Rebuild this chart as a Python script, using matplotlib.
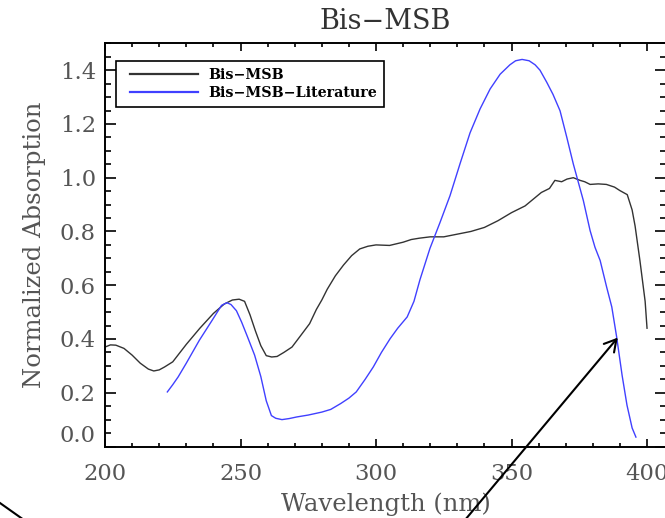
import matplotlib
matplotlib.use("Agg")
import matplotlib.pyplot as plt
import matplotlib.lines as mlines
from matplotlib.legend_handler import HandlerLine2D
from matplotlib.ticker import MultipleLocator

# measured spectrum (normalized)
bm_wl = [200, 202, 204, 207, 210, 213, 216, 218, 220, 222, 225, 230, 235, 240,
         244, 247, 249.5, 251.5, 253.5, 255.5, 257.5, 259.5, 261.5, 263.5, 266,
         269, 272, 275.5, 278, 280, 282, 285, 288, 291, 294, 297, 300, 305, 310,
         313, 316, 320, 325, 330, 335, 340, 345, 350, 355, 358, 361, 364, 366,
         368.5, 370.5, 372.8, 375.3, 377, 379, 382, 385, 388, 390, 392.7, 394.5,
         395.6, 397.4, 399.3, 400]
bm_abs = [0.37, 0.378, 0.377, 0.365, 0.34, 0.31, 0.288, 0.281, 0.285, 0.296,
          0.315, 0.38, 0.44, 0.495, 0.53, 0.545, 0.548, 0.54, 0.49, 0.43, 0.375,
          0.338, 0.333, 0.335, 0.35, 0.37, 0.41, 0.457, 0.51, 0.545, 0.585,
          0.635, 0.675, 0.71, 0.735, 0.745, 0.75, 0.748, 0.76, 0.77, 0.775,
          0.78, 0.78, 0.79, 0.80, 0.815, 0.84, 0.87, 0.895, 0.92, 0.945, 0.96,
          0.99, 0.985, 0.995, 1.0, 0.99, 0.985, 0.975, 0.977, 0.975, 0.965,
          0.952, 0.937, 0.88, 0.82, 0.69, 0.54, 0.44]

# literature spectrum
lit_wl = [223, 225, 227, 230, 234.8, 239.5, 243, 245, 246.5, 248.5, 250.4,
          252.5, 255.2, 257.5, 259.5, 261.4, 263, 265.3, 268, 270.8, 275, 280,
          283.3, 287, 290, 292.7, 296, 299, 302, 305.2, 308, 311.5, 314, 316.2,
          319.9, 323.6, 327.3, 331, 334.7, 338.4, 342.1, 345.8, 349.4, 351.5,
          353.9, 356.5, 358.7, 360.5, 363, 365.3, 367.9, 370.4, 372.8, 376.5,
          379, 380.8, 382.7, 385.1, 387, 388.8, 390.8, 392.6, 394.5, 395.9]
lit_abs = [0.203, 0.23, 0.259, 0.31, 0.395, 0.469, 0.525, 0.535, 0.528, 0.505,
           0.463, 0.41, 0.34, 0.26, 0.17, 0.115, 0.105, 0.1, 0.104, 0.11, 0.117,
           0.128, 0.138, 0.16, 0.18, 0.203, 0.25, 0.296, 0.35, 0.401, 0.44,
           0.482, 0.54, 0.62, 0.737, 0.833, 0.933, 1.052, 1.167, 1.256, 1.33,
           1.385, 1.42, 1.435, 1.44, 1.435, 1.42, 1.40, 1.355, 1.31, 1.249,
           1.15, 1.051, 0.915, 0.803, 0.741, 0.692, 0.593, 0.519, 0.407, 0.265,
           0.154, 0.069, 0.035]

x_ticks = [200, 250, 300, 350, 400]
y_ticks = [0.0, 0.2, 0.4, 0.6, 0.8, 1.0, 1.2, 1.4]

W, H = 665, 518
fig = plt.figure(figsize=(W / 100, H / 100), dpi=100)
ax = fig.add_axes([105 / W, 1 - 446.5 / H, 561 / W, 403.2 / H])

serif = "DejaVu Serif"
txt = "#555555"

ax.plot(bm_wl, bm_abs, color="#333333", lw=1.0, label="Bis\u2212MSB")
ax.plot(lit_wl, lit_abs, color="#4040ff", lw=1.0, label="Bis\u2212MSB\u2212Literature")

ax.set_xlim(200, 407)
ax.set_ylim(0, 1.5)
ax.set_xticks(x_ticks)
ax.set_yticks(y_ticks)
ax.set_xticklabels([str(v) for v in x_ticks])
ax.set_yticklabels([f"{v:.1f}" for v in y_ticks])
ax.xaxis.set_minor_locator(MultipleLocator(10))
ax.yaxis.set_minor_locator(MultipleLocator(0.05))

for s in ax.spines.values():
    s.set_linewidth(1.4)
ax.tick_params(which="both", direction="in", top=True, right=True, width=1.2,
               colors="black", labelcolor=txt)
ax.tick_params(axis="x", which="major", length=5.8, pad=12, labelsize=16.3)
ax.tick_params(axis="x", which="minor", length=3.0)
ax.tick_params(axis="y", which="major", length=7.9, pad=6.5, labelsize=16.3)
ax.tick_params(axis="y", which="minor", length=4.3)
for lab in ax.get_xticklabels() + ax.get_yticklabels():
    lab.set_family(serif)
# the 0.0 label sits above its tick
ax.get_yticklabels()[0].set_verticalalignment("bottom")

ax.set_xlabel("Wavelength (nm)", family=serif, fontsize=17.5, color=txt, labelpad=5)
ax.set_ylabel("Normalized Absorption", family=serif, fontsize=17.5, color=txt, labelpad=10)
ax.set_title("Bis\u2212MSB", family=serif, fontsize=19.5, color="#333333", pad=10.5)

leg = ax.legend(loc="upper left", bbox_to_anchor=(11 / 561, (446.5 - 60.7) / 403.2),
                borderaxespad=0, borderpad=0.5, handlelength=5.2, handletextpad=0.75,
                labelspacing=0.3, fancybox=False, framealpha=1,
                prop={"family": serif, "weight": "bold", "size": 10.3},
                handler_map={mlines.Line2D: HandlerLine2D(xpad=0.5)})
leg.get_frame().set_edgecolor("black")
leg.get_frame().set_linewidth(1.2)
for ln in leg.get_lines():
    ln.set_linewidth(1.6)

# pointer to the falling edge of the literature curve
ax.annotate("", xy=(389.2, 0.405), xycoords="data",
            xytext=(465, -2), textcoords="figure pixels",
            arrowprops=dict(arrowstyle="->,head_length=0.7,head_width=0.4",
                            mutation_scale=12, lw=1.5, color="black",
                            shrinkA=0, shrinkB=0),
            annotation_clip=False)
fig.add_artist(mlines.Line2D([-2 / W, 24 / W], [16.4 / H, -2 / H],
                             transform=fig.transFigure, color="black", lw=1.5))

fig.savefig("out.png", dpi=100)
